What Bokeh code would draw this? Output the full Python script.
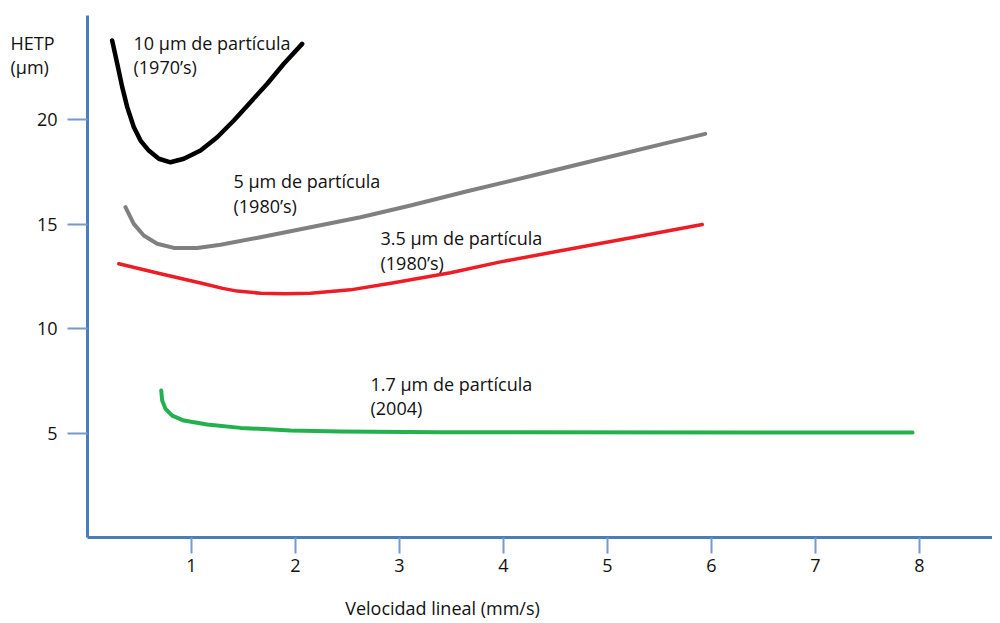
from bokeh.plotting import figure
from bokeh.models import Range1d, FixedTicker, Label
from bokeh.embed import file_html
from bokeh.resources import INLINE

# 10 µm particle (1970's)
x10 = [0.237, 0.286, 0.334, 0.382, 0.445, 0.510, 0.589, 0.686, 0.798, 0.926,
       1.087, 1.247, 1.407, 1.567, 1.728, 1.888, 2.064]
y10 = [23.80, 22.69, 21.57, 20.61, 19.66, 19.01, 18.53, 18.14, 17.97, 18.14,
       18.53, 19.17, 19.97, 20.85, 21.73, 22.69, 23.64]

# 5 µm particle (1980's)
x5 = [0.365, 0.445, 0.541, 0.670, 0.830, 1.055, 1.279, 1.663, 2.144, 2.625,
      3.106, 3.651, 4.292, 4.933, 5.574, 5.94]
y5 = [15.82, 15.02, 14.46, 14.07, 13.87, 13.87, 14.02, 14.38, 14.86, 15.34,
      15.90, 16.58, 17.35, 18.13, 18.90, 19.33]

# 3.5 µm particle (1980's)
x35 = [0.301, 0.702, 1.118, 1.30, 1.439, 1.663, 1.90, 2.144, 2.529, 2.945,
       3.490, 3.971, 4.613, 5.253, 5.911]
y35 = [13.11, 12.63, 12.15, 11.93, 11.80, 11.70, 11.67, 11.70, 11.86, 12.20,
       12.68, 13.20, 13.79, 14.38, 14.99]

# 1.7 µm particle (2004)
x17 = [0.709, 0.718, 0.750, 0.814, 0.926, 1.151, 1.471, 1.952, 2.433, 3.394, 7.933]
y17 = [7.04, 6.56, 6.16, 5.84, 5.60, 5.41, 5.25, 5.12, 5.08, 5.04, 5.03]

x_ticks = [1, 2, 3, 4, 5, 6, 7, 8]
y_ticks = [5, 10, 15, 20]

FONT = "Open Sans"
FS = "18px"
TXT = "#111111"
AXIS_BLUE = "#4a7ebb"
TICK_BLUE = "#7399cf"

W, H = 992, 620
X0_PX, PX_PER_X = 87, 104.0
Y0_PX, PX_PER_Y = 537, 20.88

def px_to_x(px):
    return (px - X0_PX) / PX_PER_X

def py_to_y(py):
    return (Y0_PX - py) / PX_PER_Y

p = figure(width=W, height=H, output_backend="svg", toolbar_location=None,
           x_range=Range1d(px_to_x(0), px_to_x(W)),
           y_range=Range1d(py_to_y(H), py_to_y(0)),
           min_border_left=0, min_border_right=0, min_border_top=0,
           min_border_bottom=0)
p.outline_line_color = None
p.grid.visible = False
p.background_fill_color = "white"

for ax in (p.xaxis[0], p.yaxis[0]):
    ax.fixed_location = 0
    ax.axis_line_color = AXIS_BLUE
    ax.axis_line_width = 3
    ax.major_tick_line_color = TICK_BLUE
    ax.major_tick_line_width = 2
    ax.minor_tick_line_color = None
    ax.major_tick_in = 0
    ax.major_label_text_font = FONT
    ax.major_label_text_font_size = FS
    ax.major_label_text_color = TXT

p.xaxis[0].bounds = (0, px_to_x(W))
p.yaxis[0].bounds = (0, 25)
p.xaxis[0].ticker = FixedTicker(ticks=x_ticks)
p.yaxis[0].ticker = FixedTicker(ticks=y_ticks)
p.xaxis[0].major_tick_out = 16
p.yaxis[0].major_tick_out = 20
p.xaxis[0].major_label_standoff = 5
p.yaxis[0].major_label_standoff = 10

p.line(x10, y10, line_color="black", line_width=4.5, line_join="round", line_cap="round")
p.line(x5, y5, line_color="#808080", line_width=4, line_join="round", line_cap="round")
p.line(x35, y35, line_color="#ee1c25", line_width=3.5, line_join="round", line_cap="round")
p.line(x17, y17, line_color="#22b14c", line_width=4, line_join="round", line_cap="round")

labels = [
    ("10 µm de partícula", 133, 42, "left"),
    ("(1970’s)", 133, 66, "left"),
    ("5 µm de partícula", 233, 180, "left"),
    ("(1980’s)", 233, 205, "left"),
    ("3.5 µm de partícula", 380, 237, "left"),
    ("(1980’s)", 380, 262, "left"),
    ("1.7 µm de partícula", 370, 383, "left"),
    ("(2004)", 370, 407, "left"),
    ("HETP", 10, 42, "left"),
    ("(µm)", 10, 66, "left"),
    ("Velocidad lineal (mm/s)", 442, 607, "center"),
]
for txt, lx, ly, al in labels:
    p.add_layout(Label(x=px_to_x(lx), y=py_to_y(ly), text=txt, text_font=FONT,
                       text_font_size=FS, text_color=TXT,
                       text_baseline="middle", text_align=al))

open("out.html", "w").write(file_html(p, INLINE))
